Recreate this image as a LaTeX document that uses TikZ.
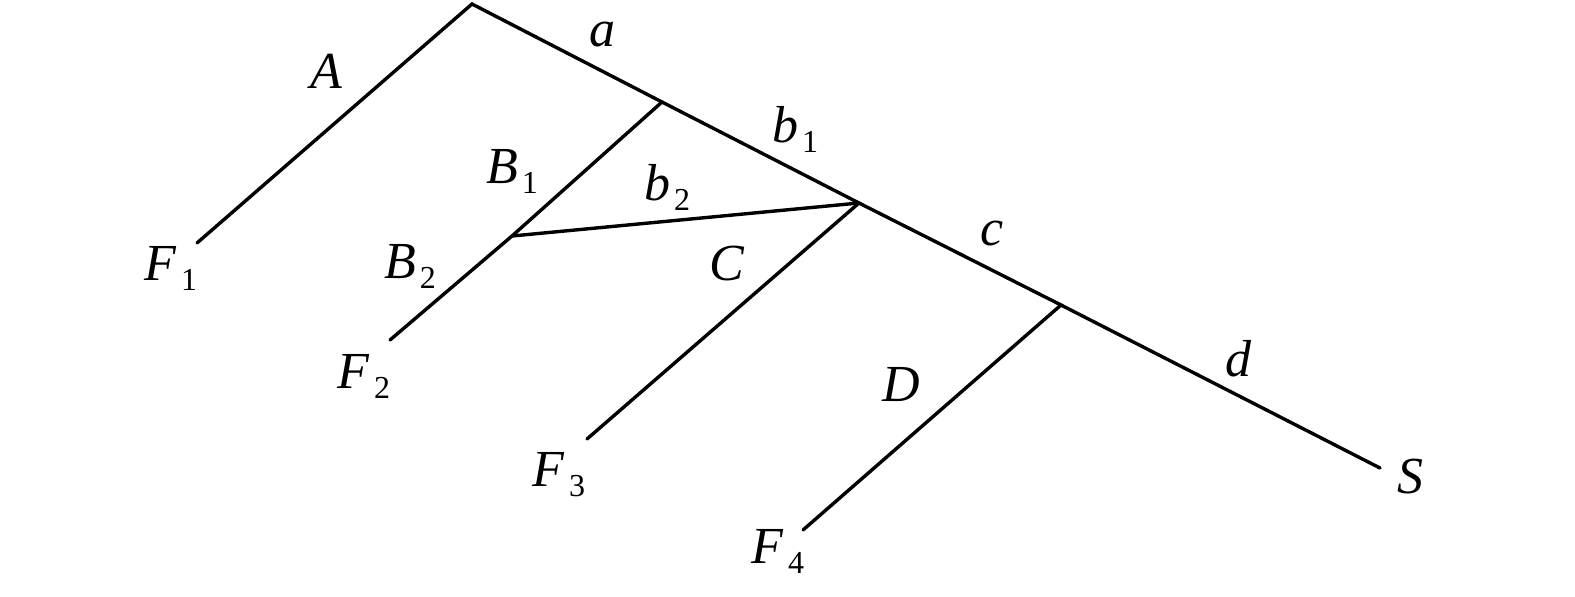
\documentclass[tikz,border=0pt]{standalone}
\usepackage{fontspec}
\setmainfont{Liberation Serif}
\newcommand{\lbl}[2]{\textit{#1}\kern2pt\raisebox{-5pt}{\fontsize{16}{16}\selectfont #2}}
\begin{document}
\begin{tikzpicture}[x=0.5pt,y=-0.5pt,
  edge/.style={line width=1.7pt,line cap=round,line join=miter},
  lab/.style={anchor=base,inner sep=0pt,font=\fontsize{26}{30}\selectfont}]
\useasboundingbox (0,0) rectangle (1575,596);
% points
\coordinate (top) at (472,4);
\coordinate (f1) at (197,243);
\coordinate (j1) at (662,102);
\coordinate (j2) at (859,203);
\coordinate (j3) at (1061,305);
\coordinate (s) at (1380,468);
\coordinate (jb) at (512,236);
\coordinate (f2) at (390,340);
\coordinate (f3) at (587,439);
\coordinate (f4) at (803,530);
% lines
\draw[edge] (f1) -- (top) -- (j1) -- (j2) -- (j3) -- (s);
\draw[edge] (j1) -- (jb) -- (f2);
\draw[edge] (jb) -- (j2);
\draw[edge] (j2) -- (f3);
\draw[edge] (j3) -- (f4);
% labels
\node[lab] (lA) at (326,88) {\textit{A}};
\node[lab] (la) at (602,46) {\textit{a}};
\node[lab] (lb1) at (795,142) {\lbl{b}{1}};
\node[lab] (lB1) at (512,183) {\lbl{B}{1}};
\node[lab] (lb2) at (667,200) {\lbl{b}{2}};
\node[lab] (lF1) at (171,280) {\lbl{F}{1}};
\node[lab] (lB2) at (410,278) {\lbl{B}{2}};
\node[lab] (lC) at (727,280) {\textit{C}};
\node[lab] (lc) at (992,245) {\textit{c}};
\node[lab] (lF2) at (364,388) {\lbl{F}{2}};
\node[lab] (lF3) at (559,486) {\lbl{F}{3}};
\node[lab] (lD) at (901,401) {\textit{D}};
\node[lab] (ld) at (1239,376) {\textit{d}};
\node[lab] (lS) at (1410,493) {\textit{S}};
\node[lab] (lF4) at (778,563) {\lbl{F}{4}};
\end{tikzpicture}
\end{document}
